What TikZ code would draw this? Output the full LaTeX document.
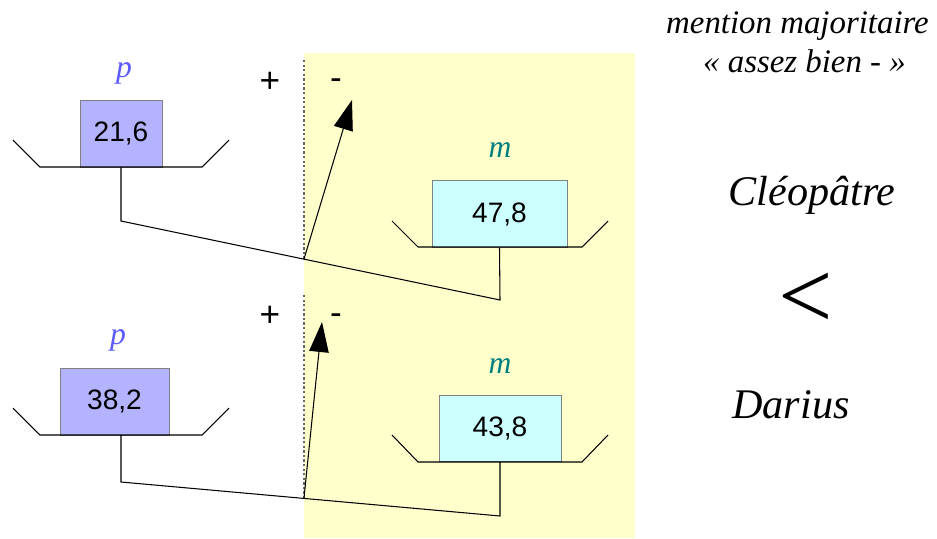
\documentclass[tikz,border=0pt]{standalone}
\usepackage{fontspec}
\setmainfont{Liberation Serif}
\setsansfont{Liberation Sans}
\usetikzlibrary{arrows.meta}
\definecolor{fondjaune}{HTML}{FFFFCC}
\definecolor{bleup}{HTML}{B3B3FF}
\definecolor{cyanm}{HTML}{CCFFFF}
\definecolor{textp}{HTML}{5B5BFF}
\definecolor{textm}{HTML}{007F7F}
\begin{document}
\begin{tikzpicture}[x=0.02cm,y=-0.02cm,
  pbox/.style={draw=gray,fill=bleup,inner sep=0pt,minimum height=1.34cm,font=\sffamily\fontsize{16}{19}\selectfont},
  mbox/.style={draw=gray,fill=cyanm,inner sep=0pt,minimum height=1.33cm,font=\sffamily\fontsize{16}{19}\selectfont},
  sign/.style={inner sep=0pt,font=\sffamily\fontsize{20}{24}\selectfont},
  plabel/.style={inner sep=0pt,text=textp,font=\itshape\fontsize{18}{21}\selectfont},
  mlabel/.style={inner sep=0pt,text=textm,font=\itshape\fontsize{18}{21}\selectfont},
  nom/.style={inner sep=0pt,anchor=base,font=\itshape\fontsize{24}{28}\selectfont},
  titre/.style={inner sep=0pt,anchor=base,font=\itshape\fontsize{18.7}{22}\selectfont},
  plate/.style={line width=0.6pt},
  beam/.style={line width=0.6pt},
  axe/.style={gray!80!black,line width=1pt,dash pattern=on 1.3pt off 1.3pt},
  fleche/.style={line width=0.6pt,-{Triangle[length=0.6cm,width=0.39cm]}}]
\useasboundingbox (0,0) rectangle (937,538);
\fill[fondjaune] (304,53) rectangle (635,538);

% balance du haut
\node[pbox,minimum width=1.64cm] (p1) at (121,133.5) {21,6};
\node[mbox,minimum width=2.7cm] (m1) at (499.5,214) {47,8};
\node[plabel] (lp1) at (124,73) {p};
\node[mlabel] (lm1) at (500,150) {m};
\draw[plate] (13,140) -- (40,167) -- (202,167) -- (229,140);
\draw[plate] (392,221) -- (418,247) -- (582,247) -- (608,221);
\coordinate (g1) at (121,221);
\coordinate (d1) at (500,300);
\coordinate (piv1) at (304,259);
\coordinate (haut1) at (304,60);
\coordinate (tip1) at (352,100);
\draw[axe] (haut1) -- (piv1);
\draw[beam] (p1.south) -- (g1) -- (d1) -- (m1.south);
\draw[fleche] (piv1) -- (tip1);
\node[sign] (plus1) at (270,82) {+};
\node[sign] (moins1) at (336,84) {-};

% balance du bas
\node[pbox,minimum width=2.18cm] (p2) at (114.5,401.5) {38,2};
\node[mbox,minimum width=2.44cm] (m2) at (500,428.5) {43,8};
\node[plabel] (lp2) at (118,340) {p};
\node[mlabel] (lm2) at (500,366) {m};
\draw[plate] (13,408) -- (40,435) -- (202,435) -- (229,408);
\draw[plate] (392,435) -- (418,462) -- (582,462) -- (608,435);
\coordinate (s2) at (121,435);
\coordinate (g2) at (121,482);
\coordinate (d2) at (500,516);
\coordinate (piv2) at (304,498);
\coordinate (haut2) at (304,295);
\coordinate (tip2) at (322,322);
\draw[axe] (haut2) -- (piv2);
\draw[beam] (s2) -- (g2) -- (d2) -- (m2.south);
\draw[fleche] (piv2) -- (tip2);
\node[sign] (plus2) at (270,316) {+};
\node[sign] (moins2) at (336,319) {-};

% textes
\node[titre] (t1) at (797.5,33) {mention majoritaire};
\node[titre] (t2) at (804.5,72) {« assez bien - »};
\node[nom] (cleo) at (812,205) {Cléopâtre};
\node[inner sep=0pt,font=\fontsize{55}{60}\selectfont] (inf) at (806,301) {<};
\node[nom] (dar) at (791,418) {Darius};
\end{tikzpicture}
\end{document}
